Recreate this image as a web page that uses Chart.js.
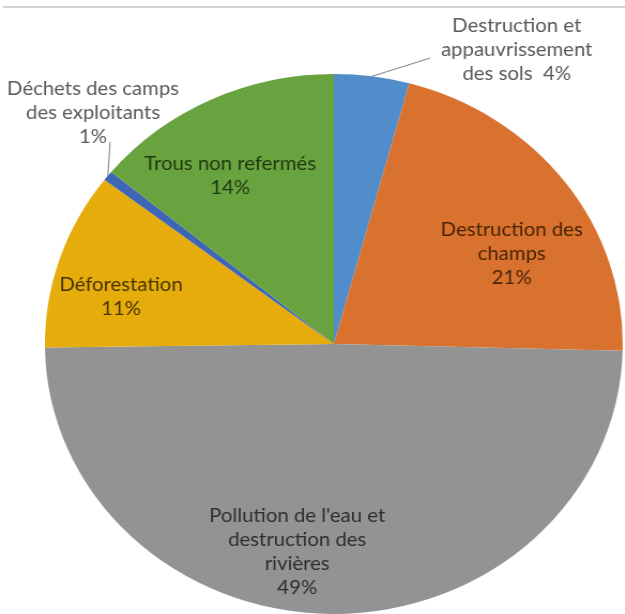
<!DOCTYPE html>
<html>
<head>
<meta charset="utf-8">
<script src="https://cdn.jsdelivr.net/npm/chart.js@4"></script>
<style>
  html, body { margin: 0; padding: 0; background: #ffffff; overflow: hidden; }
  #topline { position: absolute; left: 3px; top: 6px; width: 622px; height: 2px; background: #d2d2d2; }
  #wrap { position: absolute; left: 0; top: 0; width: 584px; height: 614px; transform: scaleX(1.07); transform-origin: 0 0; }
</style>
</head>
<body>
<div id="topline"></div>
<div id="wrap"><canvas id="c" width="584" height="614"></canvas></div>
<script>
// ---- data ----
const categories = [
  ["Destruction et", "appauvrissement", "des sols"],
  ["Destruction des", "champs"],
  ["Pollution de l'eau et", "destruction des", "rivières"],
  ["Déforestation"],
  ["Déchets des camps", "des exploitants"],
  ["Trous non refermés"]
];
const values = [4.2, 21.2, 49.4, 10.6, 0.6, 14.0];

// ---- styling ----
const sliceColors = ["#528DCB", "#D9722F", "#939393", "#E5AC0B", "#3D66B5", "#69A340"];
const labelColors = ["#595959", "#4a2306", "#2e2e2e", "#473500", "#595959", "#1f380d"];
// label placement relative to slice mid-angle: r = fraction of radius, da = angle shift (deg)
const labelPlacement = [
  { r: 1.26, da: 22.6, inline: true, leader: { r: 1.11, da: 9.9 } },
  { r: 0.70, da: 8.3 },
  { r: 0.78, da: 9.0 },
  { r: 0.757, da: -5.1 },
  { r: 1.194, da: 7.2, leader: { r: 1.077, da: 5.5 } },
  { r: 0.718, da: -4.8 }
];
const FONT = '19px Lato, "Open Sans", sans-serif';
const LINE_H = 24;

const sliceLabels = {
  id: 'sliceLabels',
  afterDatasetsDraw(chart) {
    const ctx = chart.ctx;
    const meta = chart.getDatasetMeta(0);
    const data = chart.data.datasets[0].data;
    const total = data.reduce((s, v) => s + v, 0);
    ctx.save();
    ctx.font = FONT;
    ctx.textAlign = 'center';
    ctx.textBaseline = 'middle';
    meta.data.forEach((arc, i) => {
      const { x, y, startAngle, endAngle, outerRadius } =
        arc.getProps(['x', 'y', 'startAngle', 'endAngle', 'outerRadius'], true);
      const mid = (startAngle + endAngle) / 2;
      const p = labelPlacement[i];
      const a = mid + p.da * Math.PI / 180;
      const lx = x + Math.cos(a) * outerRadius * p.r;
      const ly = y + Math.sin(a) * outerRadius * p.r;
      if (p.leader) {
        const la = mid + p.leader.da * Math.PI / 180;
        ctx.beginPath();
        ctx.strokeStyle = '#7f7f7f';
        ctx.lineWidth = 1;
        ctx.moveTo(x + Math.cos(mid) * outerRadius, y + Math.sin(mid) * outerRadius);
        ctx.lineTo(x + Math.cos(la) * outerRadius * p.leader.r, y + Math.sin(la) * outerRadius * p.leader.r);
        ctx.stroke();
      }
      const pct = Math.round(data[i] / total * 100) + '%';
      const lines = chart.data.labels[i].slice();
      if (p.inline) lines[lines.length - 1] += '  ' + pct; else lines.push(pct);
      ctx.fillStyle = labelColors[i];
      const y0 = ly - (lines.length - 1) * LINE_H / 2;
      lines.forEach((t, k) => ctx.fillText(t, lx, y0 + k * LINE_H));
    });
    ctx.restore();
  }
};

new Chart(document.getElementById('c'), {
  type: 'pie',
  data: {
    labels: categories,
    datasets: [{
      data: values,
      backgroundColor: sliceColors,
      borderWidth: 0
    }]
  },
  options: {
    responsive: false,
    animation: false,
    layout: { padding: { left: 42, right: 2, top: 74, bottom: 0 } },
    plugins: {
      legend: { display: false },
      tooltip: { enabled: false }
    }
  },
  plugins: [sliceLabels]
});
</script>
</body>
</html>
